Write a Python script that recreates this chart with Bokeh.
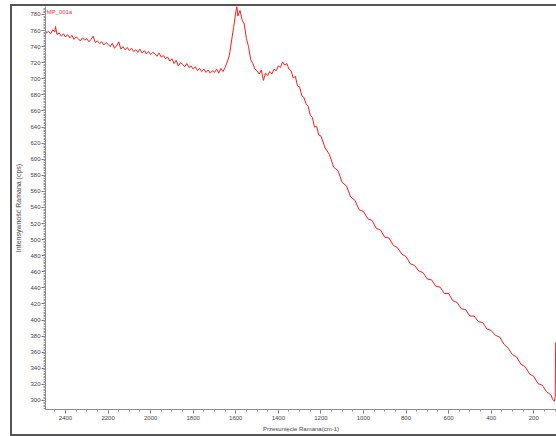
from bokeh.plotting import figure
from bokeh.models import Range1d, Label, FixedTicker
from bokeh.embed import file_html
from bokeh.resources import INLINE

title_text = "MP_001a"
x_label = "Przesunięcie Ramana(cm-1)"
y_label = "Intensywność Ramana (cps)"

shift = [2494, 2490, 2480, 2470, 2460, 2450, 2447, 2440, 2430, 2420, 2410, 2400,
         2390, 2380, 2370, 2360, 2350, 2340, 2330, 2320, 2310, 2300, 2290, 2280,
         2270, 2260, 2250, 2240, 2230, 2220, 2210, 2200, 2190, 2180, 2170, 2160,
         2150, 2140, 2130, 2120, 2110, 2100, 2090, 2080, 2070, 2060, 2050, 2040,
         2030, 2020, 2010, 2000, 1990, 1980, 1970, 1960, 1950, 1940, 1930, 1920,
         1910, 1900, 1890, 1880, 1870, 1860, 1850, 1840, 1830, 1820, 1810, 1800,
         1790, 1780, 1770, 1760, 1750, 1740, 1730, 1720, 1710, 1700, 1690, 1680,
         1670, 1660, 1650, 1640, 1630, 1620,
         1610, 1600, 1595, 1590, 1580, 1570, 1560, 1550, 1540, 1530, 1520, 1510,
         1500, 1490, 1480, 1470, 1460, 1450, 1440, 1430, 1420, 1410, 1400, 1390,
         1380, 1370, 1360, 1350, 1340, 1330, 1320, 1310, 1300, 1290, 1280, 1270,
         1260, 1250, 1240, 1230, 1220, 1210, 1200, 1180, 1160, 1140, 1120, 1100,
         1080, 1060, 1040, 1020, 1000, 980, 960, 940, 920, 900, 880, 860, 840, 820,
         800, 780, 760, 740, 720, 700, 680, 660, 640, 620, 600, 580, 560, 540, 520,
         500, 480, 460, 440, 420, 400, 380, 360, 340, 320, 300, 280, 260, 240, 220,
         200, 180, 160, 140, 120, 110, 103, 99, 97]

intensity = [760, 757, 759, 756, 761, 758, 765, 755, 757, 753, 756, 752,
             755, 751, 754, 749, 752, 750, 747, 751, 748, 750, 746, 749,
             753, 745, 747, 744, 746, 742, 745, 743, 740, 744, 738, 741,
             746, 737, 740, 736, 739, 735, 738, 734, 736, 733, 737, 732,
             735, 731, 734, 730, 733, 731, 728, 732, 727, 729, 725, 727,
             722, 725, 719, 723, 716, 720, 718, 715, 719, 714, 716, 712,
             715, 710, 713, 709, 712, 708, 711, 707, 710, 708, 712, 707,
             713, 709, 714, 721, 729, 747,
             764, 783, 790, 778, 785, 773, 768, 750, 740, 724, 719, 712,
             710, 706, 711, 698, 707, 704, 709, 706, 712, 710, 716, 714,
             721, 717, 719, 712, 710, 701, 703, 691, 690, 679, 677, 669,
             666, 655, 652, 640, 641, 630, 629, 614, 606, 590, 586, 571,
             567, 553, 549, 537, 535, 526, 524, 514, 512, 503, 502, 493, 490, 482,
             479, 470, 468, 461, 459, 451, 450, 442, 441, 433, 433, 424, 422, 414, 413,
             405, 405, 398, 397, 389, 387, 381, 379, 370, 365, 357, 354, 345, 342, 333,
             330, 321, 319, 311, 307, 301, 299, 305, 372]

x_ticks = [2400, 2200, 2000, 1800, 1600, 1400, 1200, 1000, 800, 600, 400, 200]
y_ticks = list(range(300, 781, 20))

p = figure(width=544, height=428, output_backend="svg", toolbar_location=None,
           x_range=Range1d(2494, 93), y_range=Range1d(288.8, 789.9),
           min_border_left=31, min_border_top=0, min_border_bottom=25,
           min_border_right=0)
p.styles = {"position": "relative", "top": "6px", "left": "12px",
            "outline": "2px solid #555555"}
p.outline_line_color = None
p.grid.visible = False
p.background_fill_color = "white"
p.border_fill_color = "white"

p.line(shift, intensity, line_color="#ff1a1a", line_width=1)

tick_font = "Liberation Sans"
for ax in (p.xaxis[0], p.yaxis[0]):
    ax.axis_line_color = "#8c8c8c"
    ax.major_tick_line_color = "#6e6e6e"
    ax.minor_tick_line_color = "#9a9a9a"
    ax.major_label_text_font = tick_font
    ax.major_label_text_font_size = "6px"
    ax.major_label_text_color = "#444444"
    ax.axis_label_text_font_style = "normal"
    ax.axis_label_text_color = "#444444"
    ax.major_tick_in = 0
    ax.minor_tick_in = 0

p.xaxis.ticker = FixedTicker(ticks=x_ticks,
                             minor_ticks=[v for v in range(100, 2500, 50)])
p.yaxis.ticker = FixedTicker(ticks=y_ticks,
                             minor_ticks=[v for v in range(290, 790, 2)])
p.xaxis.major_tick_out = 4
p.xaxis.minor_tick_out = 2
p.yaxis.major_tick_out = 4
p.yaxis.minor_tick_out = 2
p.xaxis.major_label_standoff = 2
p.yaxis.major_label_standoff = 1

p.xaxis.axis_label = x_label
p.xaxis.axis_label_text_font = tick_font
p.xaxis.axis_label_text_font_size = "6px"
p.xaxis.axis_label_standoff = 3
p.yaxis.axis_label = y_label
p.yaxis.axis_label_text_font = "Liberation Sans"
p.yaxis.axis_label_text_font_size = "7px"
p.yaxis.axis_label_standoff = 5

p.add_layout(Label(x=1, y=401, x_units="screen", y_units="screen",
                   text=title_text, text_color="#ff3030",
                   text_font=tick_font, text_font_size="6px",
                   text_baseline="top"))

open("out.html", "w").write(file_html(p, INLINE))
